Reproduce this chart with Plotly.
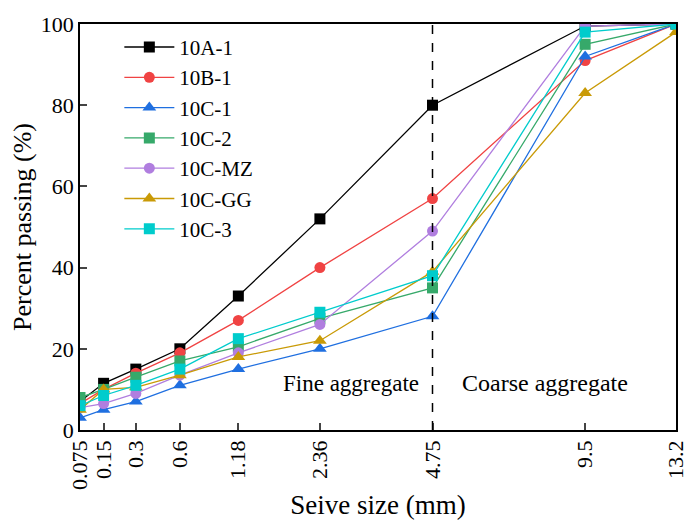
import plotly.graph_objects as go

# Sieve sizes (mm) and percent passing for each gradation
sieve_sizes = [0.075, 0.15, 0.3, 0.6, 1.18, 2.36, 4.75, 9.5, 13.2]
tick_labels = ["0.075", "0.15", "0.3", "0.6", "1.18", "2.36", "4.75", "9.5", "13.2"]

passing_10A_1 = [7, 11.5, 15, 20, 33, 52, 80, 99.5, 100]
passing_10B_1 = [6.5, 10, 14, 19, 27, 40, 57, 91, 100]
passing_10C_1 = [3, 5, 7, 11, 15, 20, 28, 92, 100]
passing_10C_2 = [8, 10, 13, 17, 20.5, 27.5, 35, 95, 100]
passing_10C_MZ = [5.5, 6.5, 9, 13.5, 19, 26, 49, 99.5, 100]
passing_10C_GG = [5, 10, 10.5, 13.5, 18, 22, 39, 83, 98]
passing_10C_3 = [6, 8.5, 11, 15, 22.5, 29, 38, 98, 100]

# 0.45 power gradation scale on the x axis
POWER = 0.45
xs = [s ** POWER for s in sieve_sizes]

series = [
    ("10A-1", passing_10A_1, "#000000", "square"),
    ("10B-1", passing_10B_1, "#F04343", "circle"),
    ("10C-1", passing_10C_1, "#1F6FE0", "triangle-up"),
    ("10C-2", passing_10C_2, "#36A96A", "square"),
    ("10C-MZ", passing_10C_MZ, "#B07EDF", "circle"),
    ("10C-GG", passing_10C_GG, "#C99A06", "triangle-up"),
    ("10C-3", passing_10C_3, "#00CCCC", "square"),
]

SERIF = "Liberation Serif"

fig = go.Figure()
for name, vals, color, sym in series:
    fig.add_trace(go.Scatter(
        x=xs, y=vals, name=name, mode="lines+markers",
        line=dict(color=color, width=1.3),
        marker=dict(symbol=sym, size=12 if "triangle" in sym else 11, color=color),
    ))

boundary = 4.75 ** POWER

fig.add_shape(type="line", x0=boundary, x1=boundary, y0=0, y1=100,
              xref="x", yref="y", line=dict(color="black", width=1.5, dash="dash"))

fig.add_annotation(x=boundary, y=11.5, xref="x", yref="y", text="Fine aggregate",
                   showarrow=False, xanchor="right", xshift=-12,
                   font=dict(family=SERIF, size=23, color="black"))
fig.add_annotation(x=boundary, y=11.5, xref="x", yref="y", text="Coarse aggregate",
                   showarrow=False, xanchor="left", xshift=27,
                   font=dict(family=SERIF, size=24, color="black"))

fig.update_layout(
    width=700, height=527,
    margin=dict(l=80, r=13, t=18, b=94),
    plot_bgcolor="white", paper_bgcolor="white",
    font=dict(family=SERIF, size=22, color="black"),
    showlegend=True,
    legend=dict(x=0.066, y=0.993, xanchor="left", yanchor="top",
                bgcolor="rgba(0,0,0,0)",
                font=dict(family=SERIF, size=21, color="black"),
                tracegroupgap=0, itemwidth=50),
    xaxis=dict(
        range=[xs[0], xs[-1]],
        tickmode="array", tickvals=xs, ticktext=tick_labels,
        tickangle=-90, ticks="inside", ticklen=7, tickwidth=1.5,
        showline=True, linecolor="black", linewidth=1.5, mirror=True,
        showgrid=False, zeroline=False,
        title=dict(text="Seive size (mm)", font=dict(family=SERIF, size=27, color="black"), standoff=6),
        tickfont=dict(family=SERIF, size=22, color="black"),
    ),
    yaxis=dict(
        range=[0, 100], tickvals=[0, 20, 40, 60, 80, 100],
        ticks="inside", ticklen=7, tickwidth=1.5,
        showline=True, linecolor="black", linewidth=1.5, mirror=True,
        showgrid=False, zeroline=False,
        title=dict(text="Percent passing (%)", font=dict(family=SERIF, size=26, color="black"), standoff=2),
        tickfont=dict(family=SERIF, size=22, color="black"),
    ),
)

fig.write_html("out.html")
